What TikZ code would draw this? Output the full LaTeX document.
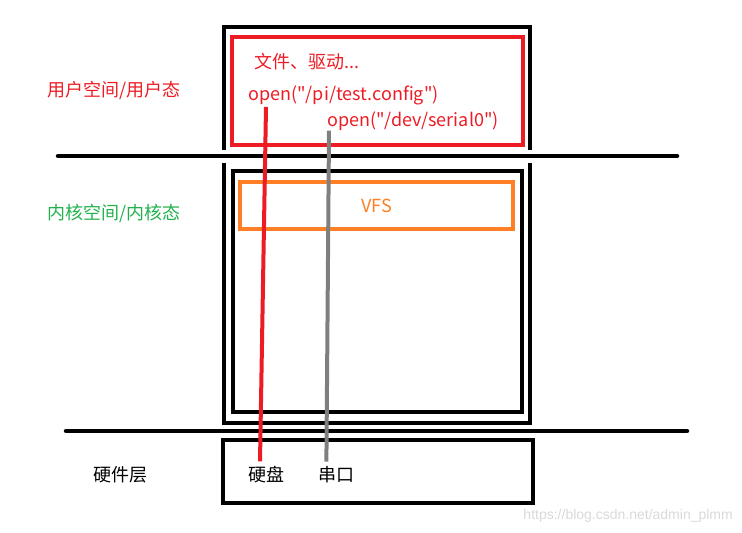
\documentclass[tikz,border=0pt]{standalone}
\usepackage{fontspec}
\setmainfont{Noto Sans CJK SC}[Ligatures=TeXOff]
\newfontfamily\markfont{Liberation Sans}
\usetikzlibrary{positioning}
\definecolor{pred}{RGB}{237,28,36}
\definecolor{porange}{RGB}{255,127,39}
\definecolor{pgray}{RGB}{127,127,127}
\definecolor{pgreen}{RGB}{34,177,76}
\tikzset{
	wall/.style={line width=4pt},
	layer/.style={line width=4.5pt,line cap=round},
	lbl/.style={inner sep=0pt,font=\fontsize{18}{21}\selectfont},
	wire/.style={line width=4pt}
}

\begin{document}
\begin{tikzpicture}[x=1pt,y=-1pt]
		\useasboundingbox (0,0) rectangle (742,533);
		
		\draw[wall] (224,150) -- (224,27) -- (530,27) -- (530,150); 
		\draw[wall] (224,163) -- (224,423) -- (530,423) -- (530,163); 
		\draw[layer] (58,156) -- (677,156); 
		\draw[layer] (66,431) -- (687,431); 
		
		\node(user) [draw=pred,line width=4pt,minimum width=291pt,minimum height=108pt] at (377.5,91) {}; 
		\node(kernel) [draw,line width=4pt,minimum width=289pt,minimum height=241pt] at (377.5,291.5) {}; 
		\node(VFS) [draw=porange,line width=4pt,minimum width=273pt,minimum height=47pt,lbl,text=porange] at (376.5,205.5) {VFS}; 
		\node(hw) [draw,line width=4pt,minimum width=310pt,minimum height=63pt] at (378,471.5) {}; 
		
		\node(files) [lbl,text=pred] at (307,62) {文件、驱动...}; 
		\node(pi) [lbl,text=pred,anchor=west] at (248,95) {open("/pi/test.config")}; 
		\node(serial) [lbl,text=pred,anchor=west] at (327,121) {open("/dev/serial0")}; 
		
		\node(us) [lbl,text=pred,anchor=west] at (47,90) {用户空间/用户态}; 
		\node(ks) [lbl,text=pgreen,anchor=west] at (47,213) {内核空间/内核态}; 
		\node(hl) [lbl] at (120,475) {硬件层}; 
		
		\node(disk) [lbl] at (266,475) {硬盘}; 
		\node(port) [lbl,right=34pt of disk] {串口}; 
		
		\draw[wire,pred] ([xshift=18pt,yshift=-2pt]pi.south west) -- ([xshift=-6pt,yshift=5pt]disk.north); 
		\draw[wire,pgray] ([xshift=2pt]serial.south west) -- ([xshift=-10pt,yshift=5pt]port.north); 
		
		\node(mark) [inner sep=0pt,anchor=east,text=black!15,font=\markfont\fontsize{14}{16}\selectfont] at (733,516) {https://blog.csdn.net/admin\_plmm}; 
	\end{tikzpicture}
\end{document}
